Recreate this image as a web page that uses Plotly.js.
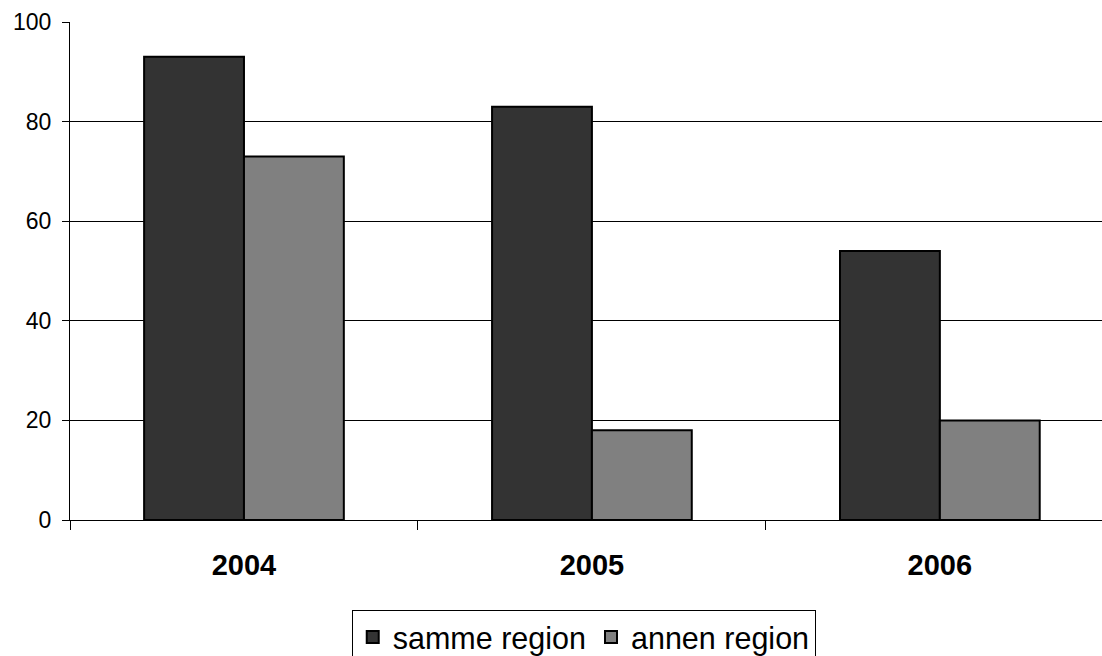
<!DOCTYPE html>
<html>
<head>
<meta charset="utf-8">
<script src="https://cdn.plot.ly/plotly-3.0.1.min.js"></script>
<style>html,body{margin:0;padding:0;background:#fff;}#chart{width:1102px;height:656px;}</style>
</head>
<body>
<div id="chart"></div>
<script>
const years = ['2004', '2005', '2006'];
const sammeRegion = [93, 83, 54];
const annenRegion = [73, 18, 20];
const seriesNames = ['samme region', 'annen region'];
const yTicks = [0, 20, 40, 60, 80, 100];

const traces = [
  {type: 'bar', name: seriesNames[0], x: years, y: sammeRegion,
   marker: {color: '#333333', line: {color: '#000000', width: 2}}},
  {type: 'bar', name: seriesNames[1], x: years, y: annenRegion,
   marker: {color: '#808080', line: {color: '#000000', width: 2}}}
];

const layout = {
  width: 1102, height: 656,
  margin: {l: 70, r: 0, t: 22, b: 136, pad: 0, autoexpand: false},
  paper_bgcolor: '#ffffff', plot_bgcolor: '#ffffff',
  font: {family: 'Liberation Sans, Arial, sans-serif', color: '#000000'},
  barmode: 'group', bargap: 0.426, bargroupgap: 0,
  showlegend: true,
  legend: {orientation: 'h', x: 0.273, xanchor: 'left', y: -0.180, yanchor: 'top',
           font: {size: 30.5, color: '#000'}, bordercolor: '#000', borderwidth: 1,
           bgcolor: '#fff', traceorder: 'normal'},
  xaxis: {type: 'category', range: [-0.5, 2.466], showline: true, linecolor: '#000', linewidth: 1,
          ticks: 'outside', tickson: 'boundaries', ticklen: 9, tickcolor: '#000', tickwidth: 1,
          tickfont: {size: 29, family: 'Liberation Sans, Arial, sans-serif', weight: 'bold'},
          ticklabelstandoff: 19, showgrid: false, fixedrange: true},
  yaxis: {range: [0, 100], tickvals: yTicks, showline: true, linecolor: '#000', linewidth: 1,
          ticks: 'outside', ticklen: 7, tickcolor: '#000', tickwidth: 1,
          showgrid: true, gridcolor: '#000', gridwidth: 1, zeroline: false,
          tickfont: {size: 23}, ticklabelstandoff: 6, fixedrange: true}
};

Plotly.newPlot('chart', traces, layout, {displayModeBar: false, staticPlot: true});
</script>
</body>
</html>
